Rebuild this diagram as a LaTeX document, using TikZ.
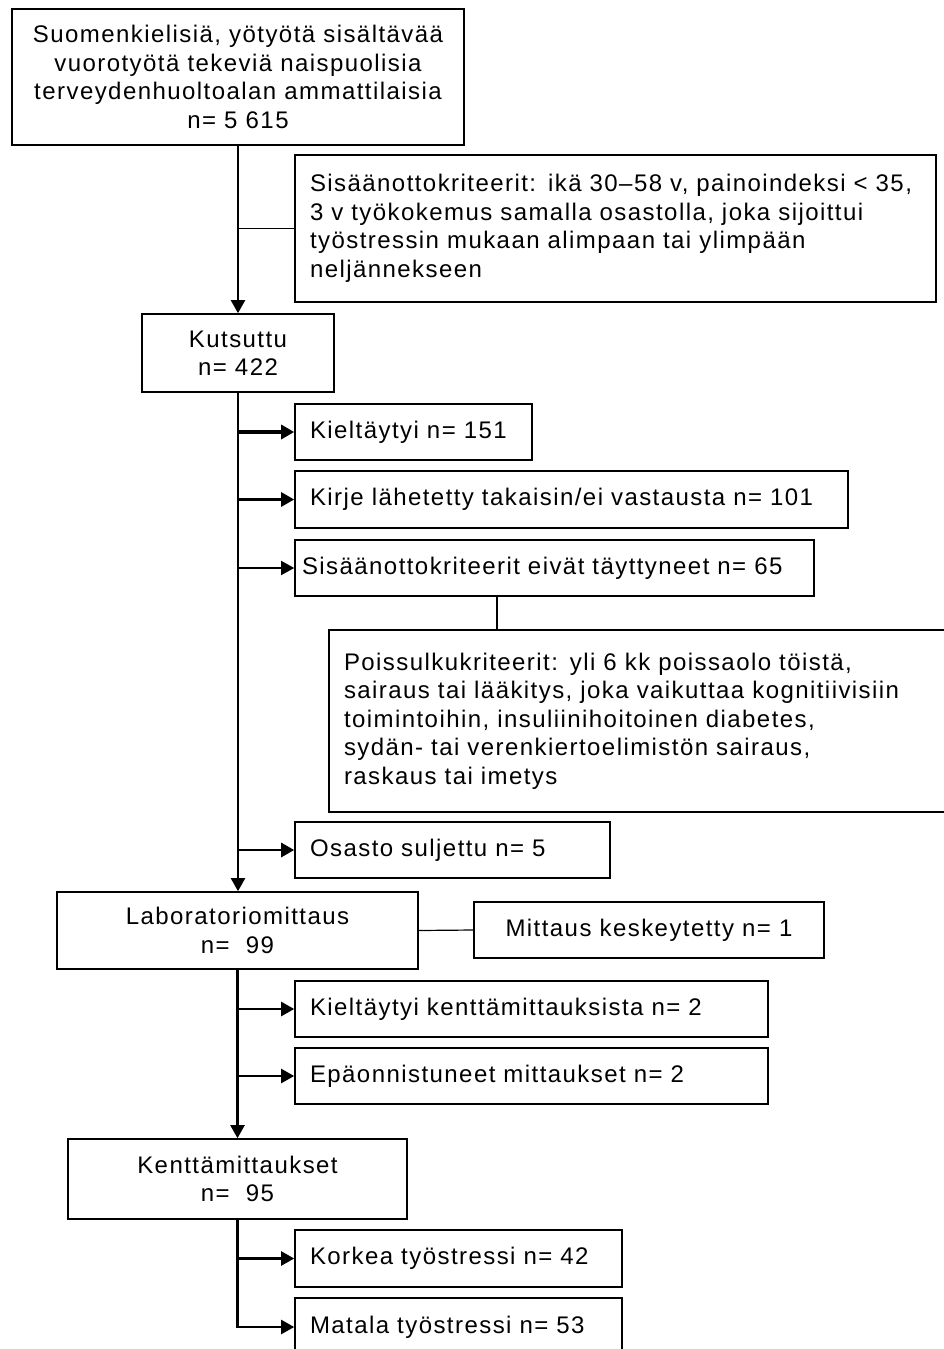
\documentclass[tikz,border=0pt]{standalone}
\usepackage{fontspec}
\setmainfont[LetterSpace=6]{Liberation Sans}
\usetikzlibrary{arrows.meta,calc}
\begin{document}
\begin{tikzpicture}[x=1pt,y=-1pt,
  box/.style={draw,line width=1.6pt,inner ysep=0pt,font=\fontsize{24}{28.5}\selectfont},
  cbox/.style={box,align=center,inner xsep=0pt},
  lbox/.style={box,align=left,inner xsep=15pt},
  flow/.style={line width=2.2pt,-{Triangle[length=13pt,width=14pt]}},
  link/.style={line width=1.2pt},
]
\useasboundingbox (0,0) rectangle (944,1349);

% boxes
\node[cbox,minimum width=452pt,minimum height=136pt] (top) at (238,77)
  {Suomenkielisiä, yötyötä sisältävää\\vuorotyötä tekeviä naispuolisia\\terveydenhuoltoalan ammattilaisia\\n= 5 615};
\node[lbox,text width=611pt,minimum height=147pt] (sis) at (615.5,228.5)
  {Sisäänottokriteerit: ikä 30–58 v, painoindeksi < 35,\\3 v työkokemus samalla osastolla, joka sijoittui\\työstressin mukaan alimpaan tai ylimpään\\neljännekseen};
\node[cbox,minimum width=192pt,minimum height=78pt] (kuts) at (238,353) {Kutsuttu\\n= 422};
\node[lbox,text width=207pt,minimum height=56pt] (kiel) at (413.5,432) {Kieltäytyi n= 151};
\node[lbox,text width=523pt,minimum height=57pt] (kirje) at (571.5,499.5) {Kirje lähetetty takaisin/ei vastausta n= 101};
\node[lbox,inner xsep=7pt,text width=505pt,minimum height=56pt] (eivat) at (554.5,568) {Sisäänottokriteerit eivät täyttyneet n= 65};
\node[lbox,text width=601pt,minimum height=182pt] (pois) at (644.5,721)
  {Poissulkukriteerit: yli 6 kk poissaolo töistä,\\sairaus tai lääkitys, joka vaikuttaa kognitiivisiin\\toimintoihin, insuliinihoitoinen diabetes,\\sydän- tai verenkiertoelimistön sairaus,\\raskaus tai imetys};
\node[lbox,text width=285pt,minimum height=56pt] (osasto) at (452.5,850) {Osasto suljettu n= 5};
\node[cbox,minimum width=361pt,minimum height=77pt] (lab) at (237.5,930.5) {Laboratoriomittaus\\n=\ \ 99\hspace{26pt}};
\node[cbox,minimum width=350pt,minimum height=56pt] (mitt) at (649,930) {Mittaus keskeytetty n= 1};
\node[lbox,text width=443pt,minimum height=56pt] (kielk) at (531.5,1009) {Kieltäytyi kenttämittauksista n= 2};
\node[lbox,text width=443pt,minimum height=56pt] (epa) at (531.5,1076) {Epäonnistuneet mittaukset n= 2};
\node[cbox,minimum width=339pt,minimum height=80pt] (kentta) at (237.5,1179) {Kenttämittaukset\\n=\ \ 95\hspace{26pt}};
\node[lbox,text width=297pt,minimum height=57pt] (kork) at (458.5,1258.5) {Korkea työstressi n= 42};
\node[lbox,text width=297pt,minimum height=58pt] (mata) at (458.5,1327) {Matala työstressi n= 53};

% main flow
\draw[flow] (top.south) -- (kuts.north);
\draw[link] (top.south |- sis.west) -- (sis.west);
\draw[flow] (kuts.south) -- (kuts.south |- lab.north);
\draw[flow,line width=3.5pt] (kuts.south |- kiel.west) -- (kiel.west);
\draw[flow,line width=2.8pt] (kuts.south |- kirje.west) -- (kirje.west);
\draw[flow,line width=1.6pt] (kuts.south |- eivat.west) -- (eivat.west);
\draw[flow,line width=2.8pt] (kuts.south |- osasto.west) -- (osasto.west);
\coordinate (px) at (497,0);
\draw[link] (eivat.south -| px) -- (pois.north -| px);
\draw[link] (lab.east) -- (mitt.west);
\draw[flow] (lab.south) -- (lab.south |- kentta.north);
\draw[flow,line width=2.5pt] (lab.south |- kielk.west) -- (kielk.west);
\draw[flow,line width=2.5pt] (lab.south |- epa.west) -- (epa.west);
\draw[flow] (kentta.south) |- (mata.west);
\draw[flow] (kentta.south |- kork.west) -- (kork.west);
\end{tikzpicture}
\end{document}
